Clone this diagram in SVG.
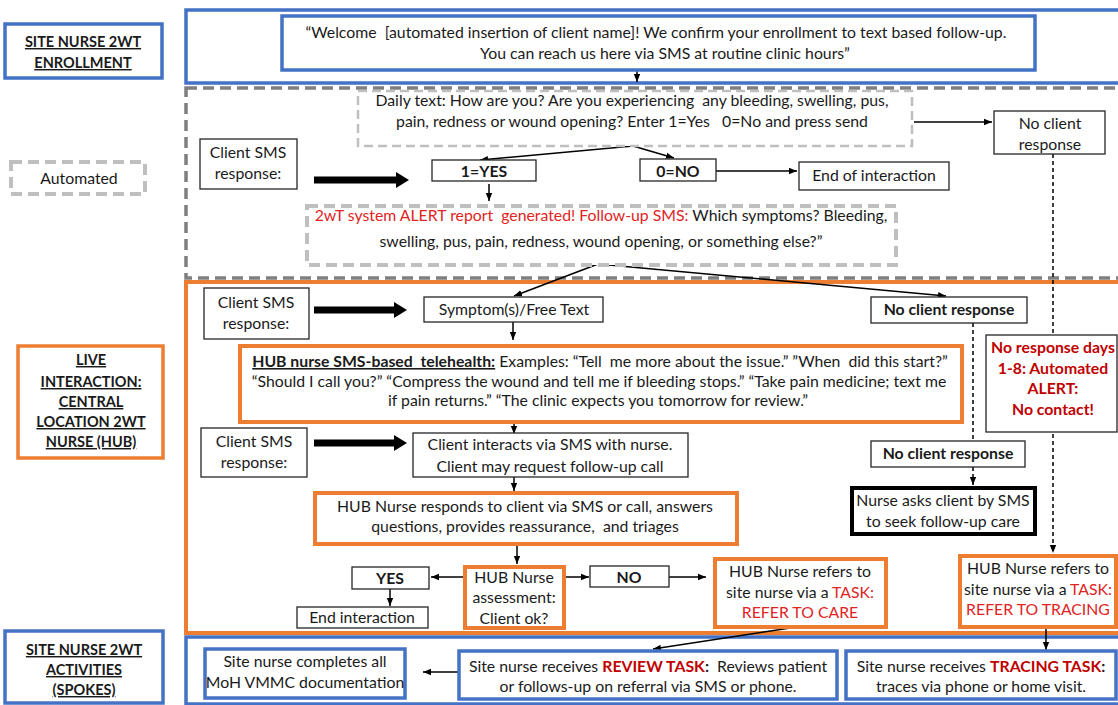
<svg xmlns="http://www.w3.org/2000/svg" width="1118" height="705" viewBox="0 0 1118 705">
<style>
.t{font-family:Lato,"Liberation Sans",sans-serif;font-size:15.8px;fill:#1a1a1a;white-space:pre}
.l{font-size:14.5px}
.c{text-anchor:middle}
.b{font-weight:bold}
.u{text-decoration:underline}
.r{fill:#E02424}
.rb{fill:#C00000;font-weight:bold}
.box{fill:#fff;stroke:#262626;stroke-width:1.3}
.ob{fill:#fff;stroke:#ED7D31;stroke-width:4}
.bb{fill:#fff;stroke:#4472C4;stroke-width:3.5}
.ln{stroke:#000;stroke-width:1.5;fill:none}
.dl{stroke:#000;stroke-width:1.5;stroke-dasharray:4 3;fill:none}
.th{stroke:#000;stroke-width:7;fill:none}
</style>
<defs>
<marker id="a" viewBox="0 0 10 10" refX="10" refY="5" markerWidth="8" markerHeight="8" markerUnits="userSpaceOnUse" orient="auto"><path d="M0,1 L10,5 L0,9 z" fill="#000"/></marker>
<marker id="ta" viewBox="0 0 13 16" refX="0" refY="8" markerWidth="13" markerHeight="16" markerUnits="userSpaceOnUse" orient="auto"><path d="M0,0 L13,8 L0,16 z" fill="#000"/></marker>
</defs>
<rect width="1118" height="705" fill="#fff"/>

<g id="lanes">
<rect x="186" y="10" width="945" height="73" fill="none" stroke="#4472C4" stroke-width="3.5"/>
<rect x="186" y="88" width="945" height="190" fill="none" stroke="#7F7F7F" stroke-width="3.5" stroke-dasharray="11 6"/>
<rect x="186" y="282" width="945" height="351" fill="none" stroke="#ED7D31" stroke-width="4"/>
<rect x="186" y="637" width="945" height="67" fill="none" stroke="#4472C4" stroke-width="3.5"/>
</g>

<g id="lane-labels">
<g id="lbl-enroll"><rect x="5" y="24" width="157" height="54" class="bb"/>
<text class="t l c b u" x="83" y="47">SITE NURSE 2WT</text><text class="t l c b u" x="83" y="68">ENROLLMENT</text></g>
<g id="lbl-auto"><rect x="11" y="162" width="134" height="32" fill="#fff" stroke="#BFBFBF" stroke-width="4" stroke-dasharray="11 6"/>
<text class="t c" x="79" y="184">Automated</text></g>
<g id="lbl-live"><rect x="18" y="346" width="145" height="112" fill="#fff" stroke="#ED7D31" stroke-width="3.5"/>
<text class="t l c b u" x="91" y="365">LIVE</text><text class="t l c b u" x="91" y="387">INTERACTION:</text><text class="t l c b u" x="91" y="407">CENTRAL</text><text class="t l c b u" x="91" y="427">LOCATION 2WT</text><text class="t l c b u" x="91" y="447">NURSE (HUB)</text></g>
<g id="lbl-spokes"><rect x="5" y="631" width="158" height="72" class="bb"/>
<text class="t l c b u" x="84" y="655">SITE NURSE 2WT</text><text class="t l c b u" x="84" y="675">ACTIVITIES</text><text class="t l c b u" x="84" y="695">(SPOKES)</text></g>
</g>

<g id="connectors">
<line class="ln" x1="637" y1="70" x2="637" y2="82" marker-end="url(#a)"/>
<polyline class="ln" points="633,146 480,160" marker-end="url(#a)"/>
<polyline class="ln" points="633,146 674,158" marker-end="url(#a)"/>
<line class="ln" x1="716" y1="171" x2="797" y2="171" marker-end="url(#a)"/>
<line class="ln" x1="914" y1="122" x2="992" y2="122" marker-end="url(#a)"/>
<line class="th" x1="314" y1="180" x2="396" y2="180" marker-end="url(#ta)"/>
<line class="ln" x1="489" y1="184" x2="489" y2="201" marker-end="url(#a)"/>
<line class="dl" x1="1053" y1="154" x2="1053" y2="553" marker-end="url(#a)"/>
<line class="ln" x1="598" y1="264" x2="514" y2="296" marker-end="url(#a)"/>
<line class="ln" x1="598" y1="264" x2="946" y2="296" marker-end="url(#a)"/>
<line class="th" x1="314" y1="310" x2="394" y2="310" marker-end="url(#ta)"/>
<line class="ln" x1="513" y1="322" x2="513" y2="340" marker-end="url(#a)"/>
<line class="dl" x1="973" y1="323" x2="973" y2="441"/>
<line class="ln" x1="514" y1="423" x2="514" y2="434" marker-end="url(#a)"/>
<line class="th" x1="314" y1="443" x2="394" y2="443" marker-end="url(#ta)"/>
<line class="dl" x1="973" y1="467" x2="973" y2="485" marker-end="url(#a)"/>
<line class="ln" x1="514" y1="477" x2="514" y2="491" marker-end="url(#a)"/>
<line class="ln" x1="517" y1="545" x2="517" y2="564" marker-end="url(#a)"/>
<line class="ln" x1="463" y1="577" x2="431" y2="577" marker-end="url(#a)"/>
<line class="ln" x1="390" y1="589" x2="390" y2="606" marker-end="url(#a)"/>
<line class="ln" x1="565" y1="577" x2="589" y2="577" stroke="#404040" marker-end="url(#a)"/>
<line class="ln" x1="669" y1="577" x2="706" y2="577" marker-end="url(#a)"/>
<line class="ln" x1="797" y1="627" x2="653" y2="649" marker-end="url(#a)"/>
<line class="ln" x1="1046" y1="627" x2="1046" y2="650" marker-end="url(#a)"/>
<line class="ln" x1="458" y1="672" x2="423" y2="672" marker-end="url(#a)"/>
</g>

<g id="n-welcome"><rect x="282" y="16" width="753" height="54" class="bb"/>
<text class="t c" x="656" y="38">“Welcome  [automated insertion of client name]! We confirm your enrollment to text based follow-up.</text>
<text class="t c" x="665" y="59">You can reach us here via SMS at routine clinic hours”</text></g>

<g id="n-daily"><rect x="358" y="91" width="554" height="55" fill="#fff" stroke="#BFBFBF" stroke-width="2.5" stroke-dasharray="9 5"/>
<text class="t c" x="632" y="106">Daily text: How are you? Are you experiencing  any bleeding, swelling, pus,</text>
<text class="t c" x="632" y="127">pain, redness or wound opening? Enter 1=Yes   0=No and press send</text></g>

<g id="n-sms1"><rect x="200" y="139" width="97" height="50" class="box"/>
<text class="t c" x="248" y="158">Client SMS</text><text class="t c" x="248" y="179">response:</text></g>

<g id="n-yes1"><rect x="432" y="160" width="104" height="21" class="box"/><text class="t c b" x="484" y="177">1=YES</text></g>
<g id="n-no1"><rect x="640" y="159" width="76" height="22" class="box"/><text class="t c b" x="678" y="177">0=NO</text></g>
<g id="n-end1"><rect x="799" y="162" width="150" height="28" class="box"/><text class="t c" x="874" y="181">End of interaction</text></g>
<g id="n-noresp1"><rect x="994" y="111" width="111" height="43" class="box"/>
<text class="t c" x="1050" y="129">No client</text><text class="t c" x="1050" y="150">response</text></g>

<g id="n-alert"><rect x="307" y="206" width="589" height="59" fill="#fff" stroke="#BFBFBF" stroke-width="4" stroke-dasharray="11 6"/>
<text class="t c" x="601" y="221"><tspan class="r">2wT system ALERT report  generated! Follow-up SMS:</tspan> Which symptoms? Bleeding,</text>
<text class="t c" x="601" y="247">swelling, pus, pain, redness, wound opening, or something else?”</text></g>

<g id="n-sms2"><rect x="204" y="288" width="105" height="51" class="box"/>
<text class="t c" x="256" y="308">Client SMS</text><text class="t c" x="256" y="329">response:</text></g>
<g id="n-symptom"><rect x="424" y="297" width="179" height="25" class="box"/><text class="t c" x="514" y="315">Symptom(s)/Free Text</text></g>
<g id="n-noresp2"><rect x="871" y="297" width="156" height="26" class="box"/><text class="t c b" x="949" y="315">No client response</text></g>

<g id="n-tele"><rect x="240" y="346" width="722" height="76" class="ob"/>
<text class="t c" x="600" y="367"><tspan class="b u">HUB nurse SMS-based  telehealth:</tspan> Examples: “Tell  me more about the issue.” ”When  did this start?”</text>
<text class="t c" x="599" y="387">“Should I call you?” “Compress the wound and tell me if bleeding stops.” “Take pain medicine; text me</text>
<text class="t c" x="598" y="406">if pain returns.” “The clinic expects you tomorrow for review.”</text></g>

<g id="n-noalert"><rect x="986" y="335" width="131" height="97" class="box"/>
<text class="t c rb" x="1053" y="353">No response days</text><text class="t c rb" x="1053" y="374">1-8: Automated</text><text class="t c rb" x="1053" y="394">ALERT:</text><text class="t c rb" x="1053" y="415">No contact!</text></g>

<g id="n-sms3"><rect x="201" y="428" width="106" height="49" class="box"/>
<text class="t c" x="254" y="447">Client SMS</text><text class="t c" x="254" y="468">response:</text></g>
<g id="n-interact"><rect x="413" y="433" width="275" height="44" class="box"/>
<text class="t c" x="550" y="450">Client interacts via SMS with nurse.</text><text class="t c" x="550" y="472">Client may request follow-up call</text></g>
<g id="n-noresp3"><rect x="871" y="441" width="154" height="26" class="box"/><text class="t c b" x="948" y="459">No client response</text></g>
<g id="n-asks"><rect x="852" y="488" width="183" height="46" fill="#fff" stroke="#000" stroke-width="4"/>
<text class="t c" x="943" y="506">Nurse asks client by SMS</text><text class="t c" x="943" y="527">to seek follow-up care</text></g>

<g id="n-responds"><rect x="315" y="493" width="422" height="51" class="ob"/>
<text class="t c" x="525" y="512">HUB Nurse responds to client via SMS or call, answers</text>
<text class="t c" x="525" y="532">questions, provides reassurance,  and triages</text></g>

<g id="n-assess"><rect x="465" y="567" width="99" height="61" class="ob"/>
<text class="t c" x="514" y="583">HUB Nurse</text><text class="t c" x="514" y="603">assessment:</text><text class="t c" x="514" y="624">Client ok?</text></g>
<g id="n-yes2"><rect x="352" y="567" width="77" height="22" class="box"/><text class="t c b" x="390" y="584">YES</text></g>
<g id="n-endint"><rect x="297" y="607" width="131" height="21" class="box"/><text class="t c" x="362" y="623">End interaction</text></g>
<g id="n-no2"><rect x="590" y="566" width="79" height="21" class="box"/><text class="t c b" x="629" y="583">NO</text></g>
<g id="n-care"><rect x="715" y="559" width="171" height="68" class="ob"/>
<text class="t c" x="800" y="577">HUB Nurse refers to</text><text class="t c" x="800" y="598">site nurse via a <tspan class="r">TASK:</tspan></text><text class="t c r" x="800" y="618">REFER TO CARE</text></g>
<g id="n-tracing"><rect x="960" y="556" width="156" height="71" class="ob"/>
<text class="t c" x="1038" y="574">HUB Nurse refers to</text><text class="t c" x="1038" y="595">site nurse via a <tspan class="r">TASK:</tspan></text><text class="t c r" x="1038" y="615">REFER TO TRACING</text></g>

<g id="n-complete"><rect x="205" y="649" width="200" height="49" class="bb"/>
<text class="t c" x="305" y="667">Site nurse completes all</text><text class="t c" x="305" y="688">MoH VMMC documentation</text></g>
<g id="n-review"><rect x="459" y="651" width="378" height="48" class="bb"/>
<text class="t c" x="648" y="672">Site nurse receives <tspan class="rb">REVIEW TASK</tspan><tspan class="b">:</tspan>  Reviews patient</text>
<text class="t c" x="648" y="692">or follows-up on referral via SMS or phone.</text></g>
<g id="n-tracetask"><rect x="846" y="651" width="270" height="48" class="bb"/>
<text class="t c" x="981" y="672">Site nurse receives <tspan class="rb">TRACING TASK</tspan><tspan class="b">:</tspan></text>
<text class="t c" x="981" y="692">traces via phone or home visit.</text></g>
</svg>
